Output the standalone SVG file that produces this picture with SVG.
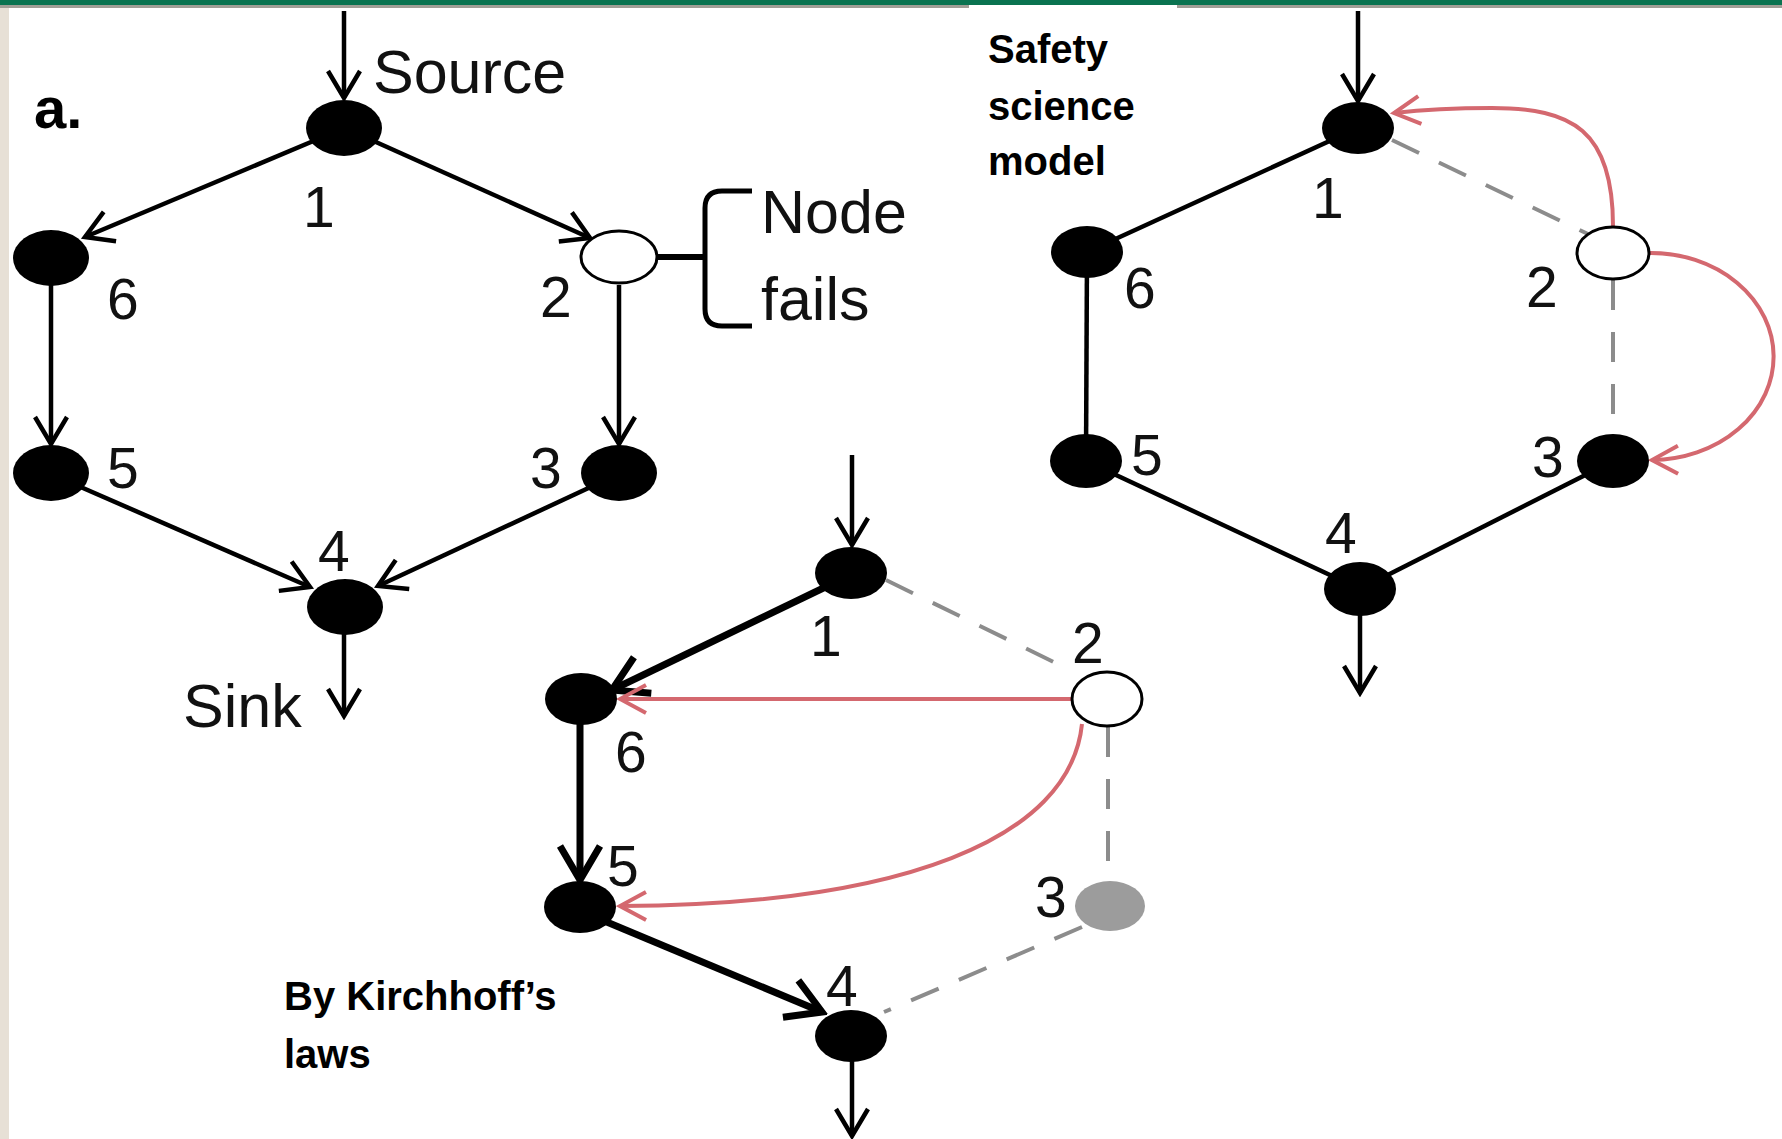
<svg xmlns="http://www.w3.org/2000/svg" width="1782" height="1139" viewBox="0 0 1782 1139">
<defs>
<style>
.lbl{font-family:"Liberation Sans",Arial,sans-serif;font-size:57px;fill:#111}
.big{font-family:"Liberation Sans",Arial,sans-serif;font-size:61px;fill:#111}
.bold{font-family:"Liberation Sans",Arial,sans-serif;font-weight:bold;font-size:40px;fill:#000}
.node{fill:#000}
.hollow{fill:#fff;stroke:#000;stroke-width:3}
.grey{fill:#9c9c9c}
.e{stroke:#000;stroke-width:4.5;fill:none}
.thick{stroke:#000;stroke-width:7;fill:none}
.dash{stroke:#8c8c8c;stroke-width:4;stroke-dasharray:30 22;fill:none}
.red{stroke:#d4686f;stroke-width:4;fill:none}
</style>
<marker id="ah" markerUnits="userSpaceOnUse" markerWidth="34" markerHeight="40" viewBox="0 0 34 40" refX="30" refY="20" orient="auto">
<path d="M3,4 L30,20 L3,36" fill="none" stroke="#000" stroke-width="4.5"/>
</marker>
<marker id="ahT" markerUnits="userSpaceOnUse" markerWidth="44" markerHeight="50" viewBox="0 0 44 50" refX="38" refY="25" orient="auto">
<path d="M4,5 L38,25 L4,45" fill="none" stroke="#000" stroke-width="7"/>
</marker>
<marker id="ahR" markerUnits="userSpaceOnUse" markerWidth="34" markerHeight="36" viewBox="0 0 34 36" refX="30" refY="18" orient="auto">
<path d="M4,4 L30,18 L4,32" fill="none" stroke="#d4686f" stroke-width="4"/>
</marker>
</defs>

<g id="frame">
<rect x="0" y="0" width="1782" height="1139" fill="#fff"/>
<rect x="0" y="0" width="1782" height="5" fill="#0a7350"/>
<rect x="0" y="5" width="969" height="3" fill="#a19e96"/>
<rect x="1177" y="5" width="605" height="3" fill="#a19e96"/>
<rect x="0" y="8" width="9" height="1131" fill="#e7e0d6"/>
</g>

<g id="connectors">
<!-- left diagram -->
<line class="e" x1="344" y1="11" x2="344" y2="98" marker-end="url(#ah)"/>
<line class="e" x1="330" y1="134" x2="85" y2="237" marker-end="url(#ah)"/>
<line class="e" x1="358" y1="134" x2="590" y2="238" marker-end="url(#ah)"/>
<line class="e" x1="51" y1="280" x2="51" y2="444" marker-end="url(#ah)"/>
<line class="e" x1="619" y1="285" x2="619" y2="444" marker-end="url(#ah)"/>
<line class="e" x1="60" y1="478" x2="310" y2="587" marker-end="url(#ah)"/>
<line class="e" x1="610" y1="478" x2="378" y2="586" marker-end="url(#ah)"/>
<line class="e" x1="344" y1="625" x2="344" y2="716" marker-end="url(#ah)"/>
<path d="M658,257 L705,257" stroke="#000" stroke-width="6" fill="none"/>
<path d="M752,191 L722,191 Q705,191 705,208 L705,309 Q705,326 722,326 L752,326" stroke="#000" stroke-width="5" fill="none"/>
<!-- right diagram -->
<line class="e" x1="1358" y1="11" x2="1358" y2="101" marker-end="url(#ah)"/>
<line class="e" x1="1358" y1="128" x2="1087" y2="252"/>
<line class="e" x1="1087" y1="252" x2="1086" y2="461"/>
<line class="e" x1="1086" y1="461" x2="1360" y2="589"/>
<line class="e" x1="1360" y1="589" x2="1613" y2="461"/>
<line class="e" x1="1360" y1="600" x2="1360" y2="693" marker-end="url(#ah)"/>
<line class="dash" x1="1392" y1="140" x2="1588" y2="234"/>
<line class="dash" x1="1613" y1="280" x2="1613" y2="434"/>
<path class="red" d="M1613,226 C1613,130 1572,108 1492,108 C1450,108 1420,110 1394,113" marker-end="url(#ahR)"/>
<path class="red" d="M1650,253 A122,103 0 0 1 1652,460" marker-end="url(#ahR)"/>
<!-- bottom diagram -->
<line class="e" x1="852" y1="455" x2="852" y2="545" marker-end="url(#ah)"/>
<line class="thick" x1="840" y1="580" x2="612" y2="690" marker-end="url(#ahT)"/>
<line class="dash" x1="886" y1="580" x2="1070" y2="670"/>
<line class="red" x1="1071" y1="699" x2="620" y2="699" marker-end="url(#ahR)"/>
<path class="red" d="M1082,724 C1070,840 900,905 620,906" marker-end="url(#ahR)"/>
<line class="dash" x1="1108" y1="727" x2="1108" y2="882"/>
<line class="thick" x1="580" y1="722" x2="580" y2="880" marker-end="url(#ahT)"/>
<line class="thick" x1="590" y1="915" x2="822" y2="1012" marker-end="url(#ahT)"/>
<line class="dash" x1="1082" y1="927" x2="884" y2="1012"/>
<line class="e" x1="852" y1="1058" x2="852" y2="1136" marker-end="url(#ah)"/>
</g>

<g id="left-a">
<text class="bold" x="34" y="128" style="font-size:58px">a.</text>
<text class="big" x="373" y="93">Source</text>
<text class="big" x="761" y="233">Node</text>
<text class="big" x="761" y="320">fails</text>
<text class="big" x="183" y="727">Sink</text>
</g>
<g id="a-n1"><ellipse class="node" cx="344" cy="128" rx="38" ry="28"/><text class="lbl" x="303" y="227">1</text></g>
<g id="a-n2"><ellipse class="hollow" cx="619" cy="257" rx="38" ry="26"/><text class="lbl" x="540" y="317">2</text></g>
<g id="a-n3"><ellipse class="node" cx="619" cy="473" rx="38" ry="28"/><text class="lbl" x="530" y="488">3</text></g>
<g id="a-n4"><ellipse class="node" cx="345" cy="607" rx="38" ry="28"/><text class="lbl" x="318" y="571">4</text></g>
<g id="a-n5"><ellipse class="node" cx="51" cy="473" rx="38" ry="28"/><text class="lbl" x="107" y="488">5</text></g>
<g id="a-n6"><ellipse class="node" cx="51" cy="258" rx="38" ry="28"/><text class="lbl" x="107" y="319">6</text></g>

<g id="right-label">
<text class="bold" x="988" y="63">Safety</text>
<text class="bold" x="988" y="120">science</text>
<text class="bold" x="988" y="175">model</text>
</g>
<g id="b-n1"><ellipse class="node" cx="1358" cy="128" rx="36" ry="26"/><text class="lbl" x="1312" y="218">1</text></g>
<g id="b-n2"><ellipse class="hollow" cx="1613" cy="253" rx="36" ry="26"/><text class="lbl" x="1526" y="307">2</text></g>
<g id="b-n3"><ellipse class="node" cx="1613" cy="461" rx="36" ry="27"/><text class="lbl" x="1532" y="477">3</text></g>
<g id="b-n4"><ellipse class="node" cx="1360" cy="589" rx="36" ry="27"/><text class="lbl" x="1325" y="553">4</text></g>
<g id="b-n5"><ellipse class="node" cx="1086" cy="461" rx="36" ry="27"/><text class="lbl" x="1131" y="475">5</text></g>
<g id="b-n6"><ellipse class="node" cx="1087" cy="252" rx="36" ry="26"/><text class="lbl" x="1124" y="308">6</text></g>

<g id="bottom-label">
<text class="bold" x="284" y="1010">By Kirchhoff’s</text>
<text class="bold" x="284" y="1068">laws</text>
</g>
<g id="c-n1"><ellipse class="node" cx="851" cy="573" rx="36" ry="26"/><text class="lbl" x="810" y="656">1</text></g>
<g id="c-n2"><ellipse class="hollow" cx="1107" cy="699" rx="35" ry="27"/><text class="lbl" x="1072" y="663">2</text></g>
<g id="c-n3"><ellipse class="grey" cx="1110" cy="906" rx="35" ry="25"/><text class="lbl" x="1035" y="917">3</text></g>
<g id="c-n4"><ellipse class="node" cx="851" cy="1036" rx="36" ry="26"/><text class="lbl" x="826" y="1006">4</text></g>
<g id="c-n5"><ellipse class="node" cx="580" cy="907" rx="36" ry="26"/><text class="lbl" x="607" y="886">5</text></g>
<g id="c-n6"><ellipse class="node" cx="581" cy="699" rx="36" ry="26"/><text class="lbl" x="615" y="772">6</text></g>
</svg>
